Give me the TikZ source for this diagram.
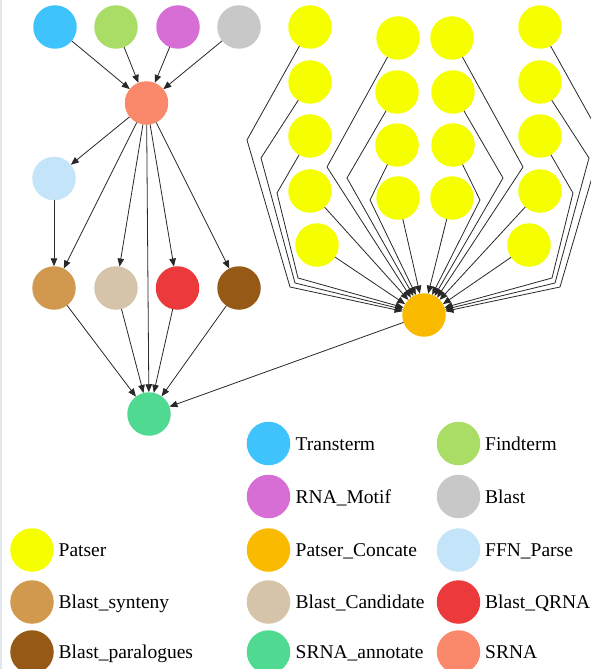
\documentclass[tikz,border=0pt]{standalone}
\usepackage{fontspec}
\setmainfont{Liberation Serif}
\usetikzlibrary{arrows.meta}
\definecolor{cTrans}{RGB}{62,195,252}
\definecolor{cFind}{RGB}{170,221,102}
\definecolor{cMotif}{RGB}{214,110,214}
\definecolor{cBlast}{RGB}{200,200,200}
\definecolor{cSRNA}{RGB}{250,136,106}
\definecolor{cFFN}{RGB}{196,228,250}
\definecolor{cSyn}{RGB}{208,153,77}
\definecolor{cCand}{RGB}{214,196,170}
\definecolor{cQRNA}{RGB}{236,58,60}
\definecolor{cPara}{RGB}{150,90,22}
\definecolor{cAnn}{RGB}{80,218,145}
\definecolor{cPat}{RGB}{246,255,0}
\definecolor{cPC}{RGB}{249,186,0}
\definecolor{cEdge}{RGB}{40,40,40}
\definecolor{cFrame}{RGB}{226,231,237}
\tikzset{
  dot/.style={circle, draw=none, minimum size=43.5pt, inner sep=0pt, outer sep=0pt},
  link/.style={draw=cEdge, line width=0.8pt, -{Triangle[length=8pt,width=6.5pt]}},
  legtext/.style={anchor=base west, inner sep=0pt, font=\rmfamily\fontsize{19.5}{22}\selectfont},
}
\begin{document}
\begin{tikzpicture}[x=1pt,y=-1pt]
\useasboundingbox (0,0) rectangle (591,669);
\clip (0,0) rectangle (591,669);
\fill[white] (0,0) rectangle (591,669);
\draw[cFrame, line width=2pt] (1,0) -- (1,669);

% left graph
\node[dot, fill=cTrans] (tt) at (55,27) {};
\node[dot, fill=cFind] (ft) at (116,27) {};
\node[dot, fill=cMotif] (rm) at (178,27) {};
\node[dot, fill=cBlast] (bl) at (239,27) {};
\node[dot, fill=cSRNA] (srna) at (146.5,103) {};
\node[dot, fill=cFFN] (ffn) at (54,178.5) {};
\node[dot, fill=cSyn] (bs) at (54,288) {};
\node[dot, fill=cCand] (bc) at (116,288) {};
\node[dot, fill=cQRNA] (bq) at (177.5,288) {};
\node[dot, fill=cPara] (bp) at (239,288) {};
\node[dot, fill=cAnn] (sa) at (149,414) {};
\node[dot, fill=cPC] (pc) at (424,315) {};

% yellow nodes
\node[dot, fill=cPat] (a1) at (310,27) {};
\node[dot, fill=cPat] (a2) at (310,82) {};
\node[dot, fill=cPat] (a3) at (310,136) {};
\node[dot, fill=cPat] (a4) at (310,191) {};
\node[dot, fill=cPat] (a5) at (317,245) {};
\node[dot, fill=cPat] (b1) at (398,38) {};
\node[dot, fill=cPat] (b2) at (397,92) {};
\node[dot, fill=cPat] (b3) at (397,145) {};
\node[dot, fill=cPat] (b4) at (398,198) {};
\node[dot, fill=cPat] (c1) at (452,38) {};
\node[dot, fill=cPat] (c2) at (453,92) {};
\node[dot, fill=cPat] (c3) at (453,145) {};
\node[dot, fill=cPat] (c4) at (452,198) {};
\node[dot, fill=cPat] (d1) at (540,27) {};
\node[dot, fill=cPat] (d2) at (540,82) {};
\node[dot, fill=cPat] (d3) at (540,136) {};
\node[dot, fill=cPat] (d4) at (540,191) {};
\node[dot, fill=cPat] (d5) at (529,245) {};

% left graph edges
\draw[link] (tt) -- (srna);
\draw[link] (ft) -- (srna);
\draw[link] (rm) -- (srna);
\draw[link] (bl) -- (srna);
\draw[link] (srna) -- (ffn);
\draw[link] (srna) -- (bs);
\draw[link] (srna) -- (bc);
\draw[link] (srna) -- (sa);
\draw[link] (srna) -- (bq);
\draw[link] (srna) -- (bp);
\draw[link] (ffn) -- (bs);
\draw[link] (bs) -- (sa);
\draw[link] (bc) -- (sa);
\draw[link] (bq) -- (sa);
\draw[link] (bp) -- (sa);
\draw[link] (pc) -- (sa);

% yellow edges
\draw[link] (a1) -- (247,140) -- (290,287) -- (pc.170);
\draw[link] (a2) -- (261,158) -- (295,283) -- (pc.165);
\draw[link] (a3) -- (277,193) -- (298,278) -- (pc.160);
\draw[link] (a4) -- (pc.136);
\draw[link] (a5) -- (pc.150);
\draw[link] (b1) -- (327,167) -- (pc.127);
\draw[link] (b2) -- (347,178) -- (pc.119);
\draw[link] (b3) -- (370,200) -- (pc.112);
\draw[link] (b4) -- (pc.101);
\draw[link] (c1) -- (523,167) -- (pc.53);
\draw[link] (c2) -- (503,178) -- (pc.61);
\draw[link] (c3) -- (480,200) -- (pc.68);
\draw[link] (c4) -- (pc.79);
\draw[link] (d1) -- (603,140) -- (560,287) -- (pc.10);
\draw[link] (d2) -- (589,158) -- (555,283) -- (pc.15);
\draw[link] (d3) -- (573,193) -- (552,278) -- (pc.20);
\draw[link] (d4) -- (pc.44);
\draw[link] (d5) -- (pc.30);

% legend
\node[dot, fill=cTrans] (lg1) at (268.5,443.5) {};
\node[legtext] (lt1) at (295.5,450) {Transterm};
\node[dot, fill=cFind] (lg2) at (458.5,443.5) {};
\node[legtext] (lt2) at (485,450) {Findterm};
\node[dot, fill=cMotif] (lg3) at (268.5,496.5) {};
\node[legtext] (lt3) at (295.5,503) {RNA\_Motif};
\node[dot, fill=cBlast] (lg4) at (458.5,496.5) {};
\node[legtext] (lt4) at (485,503) {Blast};
\node[dot, fill=cPat] (lg5) at (32,550) {};
\node[legtext] (lt5) at (58.5,556.5) {Patser};
\node[dot, fill=cPC] (lg6) at (268.5,550) {};
\node[legtext] (lt6) at (295.5,556.5) {Patser\_Concate};
\node[dot, fill=cFFN] (lg7) at (458.5,550) {};
\node[legtext] (lt7) at (485,556.5) {FFN\_Parse};
\node[dot, fill=cSyn] (lg8) at (32,602) {};
\node[legtext] (lt8) at (58.5,608.5) {Blast\_synteny};
\node[dot, fill=cCand] (lg9) at (268.5,602) {};
\node[legtext] (lt9) at (295.5,608.5) {Blast\_Candidate};
\node[dot, fill=cQRNA] (lg10) at (458.5,602) {};
\node[legtext] (lt10) at (485,608.5) {Blast\_QRNA};
\node[dot, fill=cPara] (lg11) at (32,652) {};
\node[legtext] (lt11) at (58.5,658.5) {Blast\_paralogues};
\node[dot, fill=cAnn] (lg12) at (268.5,652) {};
\node[legtext] (lt12) at (295.5,658.5) {SRNA\_annotate};
\node[dot, fill=cSRNA] (lg13) at (458.5,652) {};
\node[legtext] (lt13) at (485,658.5) {SRNA};
\end{tikzpicture}
\end{document}
